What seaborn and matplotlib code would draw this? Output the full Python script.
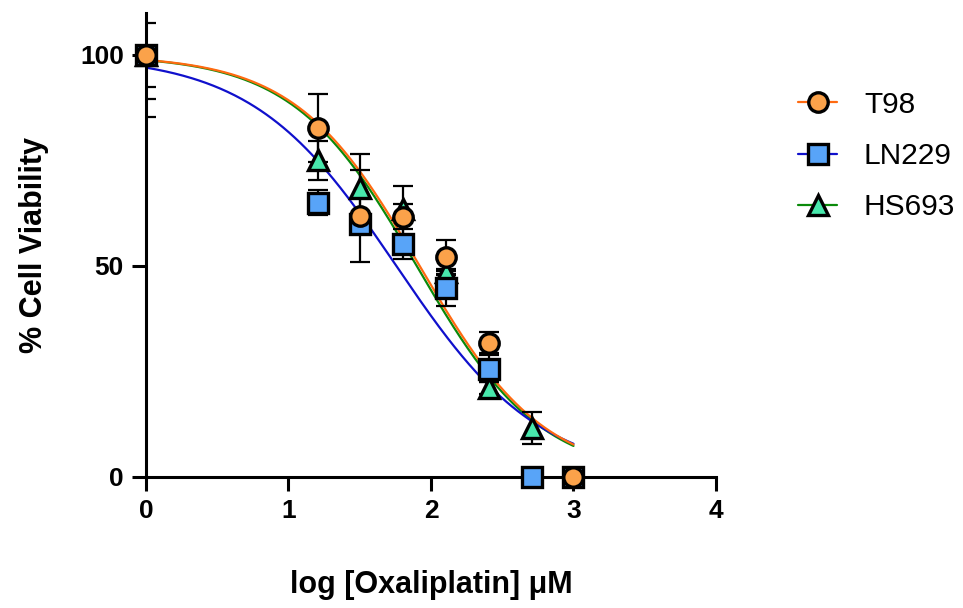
import numpy as np
import matplotlib
matplotlib.use('Agg')
import matplotlib.pyplot as plt
from matplotlib.lines import Line2D
import seaborn as sns

# 读图得到的数据
log_conc = [0.0, 1.204, 1.505, 1.806, 2.107, 2.408, 2.709, 3.0]
t98 = [100, 82.7, 61.8, 61.7, 52.1, 31.8, np.nan, 0]
t98_sd = [7.5, 8.1, 10.9, 7.3, 4.1, 2.5, np.nan, 0]
ln229 = [100, 65.0, 60.0, 55.2, 44.7, 25.7, 0, 0]
ln229_sd = [10.4, 3.0, 2.0, 3.5, 4.2, 3.1, 0, 0]
hs693 = [100, 75.0, 68.5, 63.5, 48.5, 21.1, 11.6, np.nan]
hs693_sd = [14.8, 4.6, 8.0, 1.1, 0.7, 1.5, 3.8, np.nan]

# 四参数拟合曲线参数 (top, bottom, logIC50, hill)
fit_t98 = (100, 0, 1.92, 1.0)
fit_ln229 = (100, 0, 1.757, 0.86)
fit_hs693 = (100, 0, 1.90, 1.0)

labels = ['T98', 'LN229', 'HS693']

sns.set_style('ticks')
plt.rcParams['font.family'] = ['Liberation Sans', 'DejaVu Sans']
plt.rcParams['text.color'] = 'black'
plt.rcParams['axes.labelcolor'] = 'black'
plt.rcParams['xtick.color'] = 'black'
plt.rcParams['ytick.color'] = 'black'
plt.rcParams['axes.edgecolor'] = 'black'

def fourpl(x, p):
    top, bottom, ic, h = p
    return bottom + (top - bottom) / (1 + 10 ** ((x - ic) * h))

fig = plt.figure(figsize=(9.63, 6.08), dpi=100)
ax = fig.add_axes([0.1516, 0.2155, 0.5919, 0.7635])

styles = {
    'T98': dict(marker='o', fill='#FBA24A', line='#FF6A10'),
    'LN229': dict(marker='s', fill='#58A4F8', line='#1010CC'),
    'HS693': dict(marker='^', fill='#48E8AC', line='#0A8A0A'),
}
series = {'T98': (t98, t98_sd, fit_t98),
          'LN229': (ln229, ln229_sd, fit_ln229),
          'HS693': (hs693, hs693_sd, fit_hs693)}

xfit = np.linspace(0, 3, 300)
for name in ['HS693', 'LN229', 'T98']:
    y, sd, p = series[name]
    sns.lineplot(x=xfit, y=fourpl(xfit, p), color=styles[name]['line'], lw=1.6, ax=ax, zorder=2)

# 先画误差线
for name in labels:
    y, sd, p = series[name]
    ax.errorbar(log_conc, y, yerr=sd, fmt='none', ecolor='black', elinewidth=1.6,
                capsize=7, capthick=1.6, zorder=3)

# 标记点，顺序：HS693, LN229, T98
for z, name in zip([4, 5, 6], ['HS693', 'LN229', 'T98']):
    y, sd, p = series[name]
    ax.plot(log_conc, y, linestyle='none', marker=styles[name]['marker'], ms=14,
            mfc=styles[name]['fill'], mec='black', mew=2.4, clip_on=False, zorder=z)

ax.set_xlim(0, 4)
ax.set_ylim(0, 110)
ax.set_xticks([0, 1, 2, 3, 4])
ax.set_yticks([0, 50, 100])
sns.despine(ax=ax)
for s in ['left', 'bottom']:
    ax.spines[s].set_linewidth(2.2)
ax.tick_params(width=2.2, length=10, pad=6, labelsize=19)
for lab in ax.get_xticklabels() + ax.get_yticklabels():
    lab.set_fontweight('bold')

ax.set_xlabel('log [Oxaliplatin] μM', fontsize=22, fontweight='bold', labelpad=34)
ax.set_ylabel('% Cell Viability', fontsize=22, fontweight='bold', labelpad=22)

handles = [Line2D([0], [0], color=styles[n]['line'], lw=1.6, marker=styles[n]['marker'], ms=14,
                  mfc=styles[n]['fill'], mec='black', mew=2.4) for n in labels]
fig.legend(handles, labels, loc='upper left', bbox_to_anchor=(0.801, 0.895), frameon=False,
           fontsize=21.5, handlelength=1.3, handletextpad=0.9, labelspacing=0.78)

fig.savefig('out.png', dpi=100)
